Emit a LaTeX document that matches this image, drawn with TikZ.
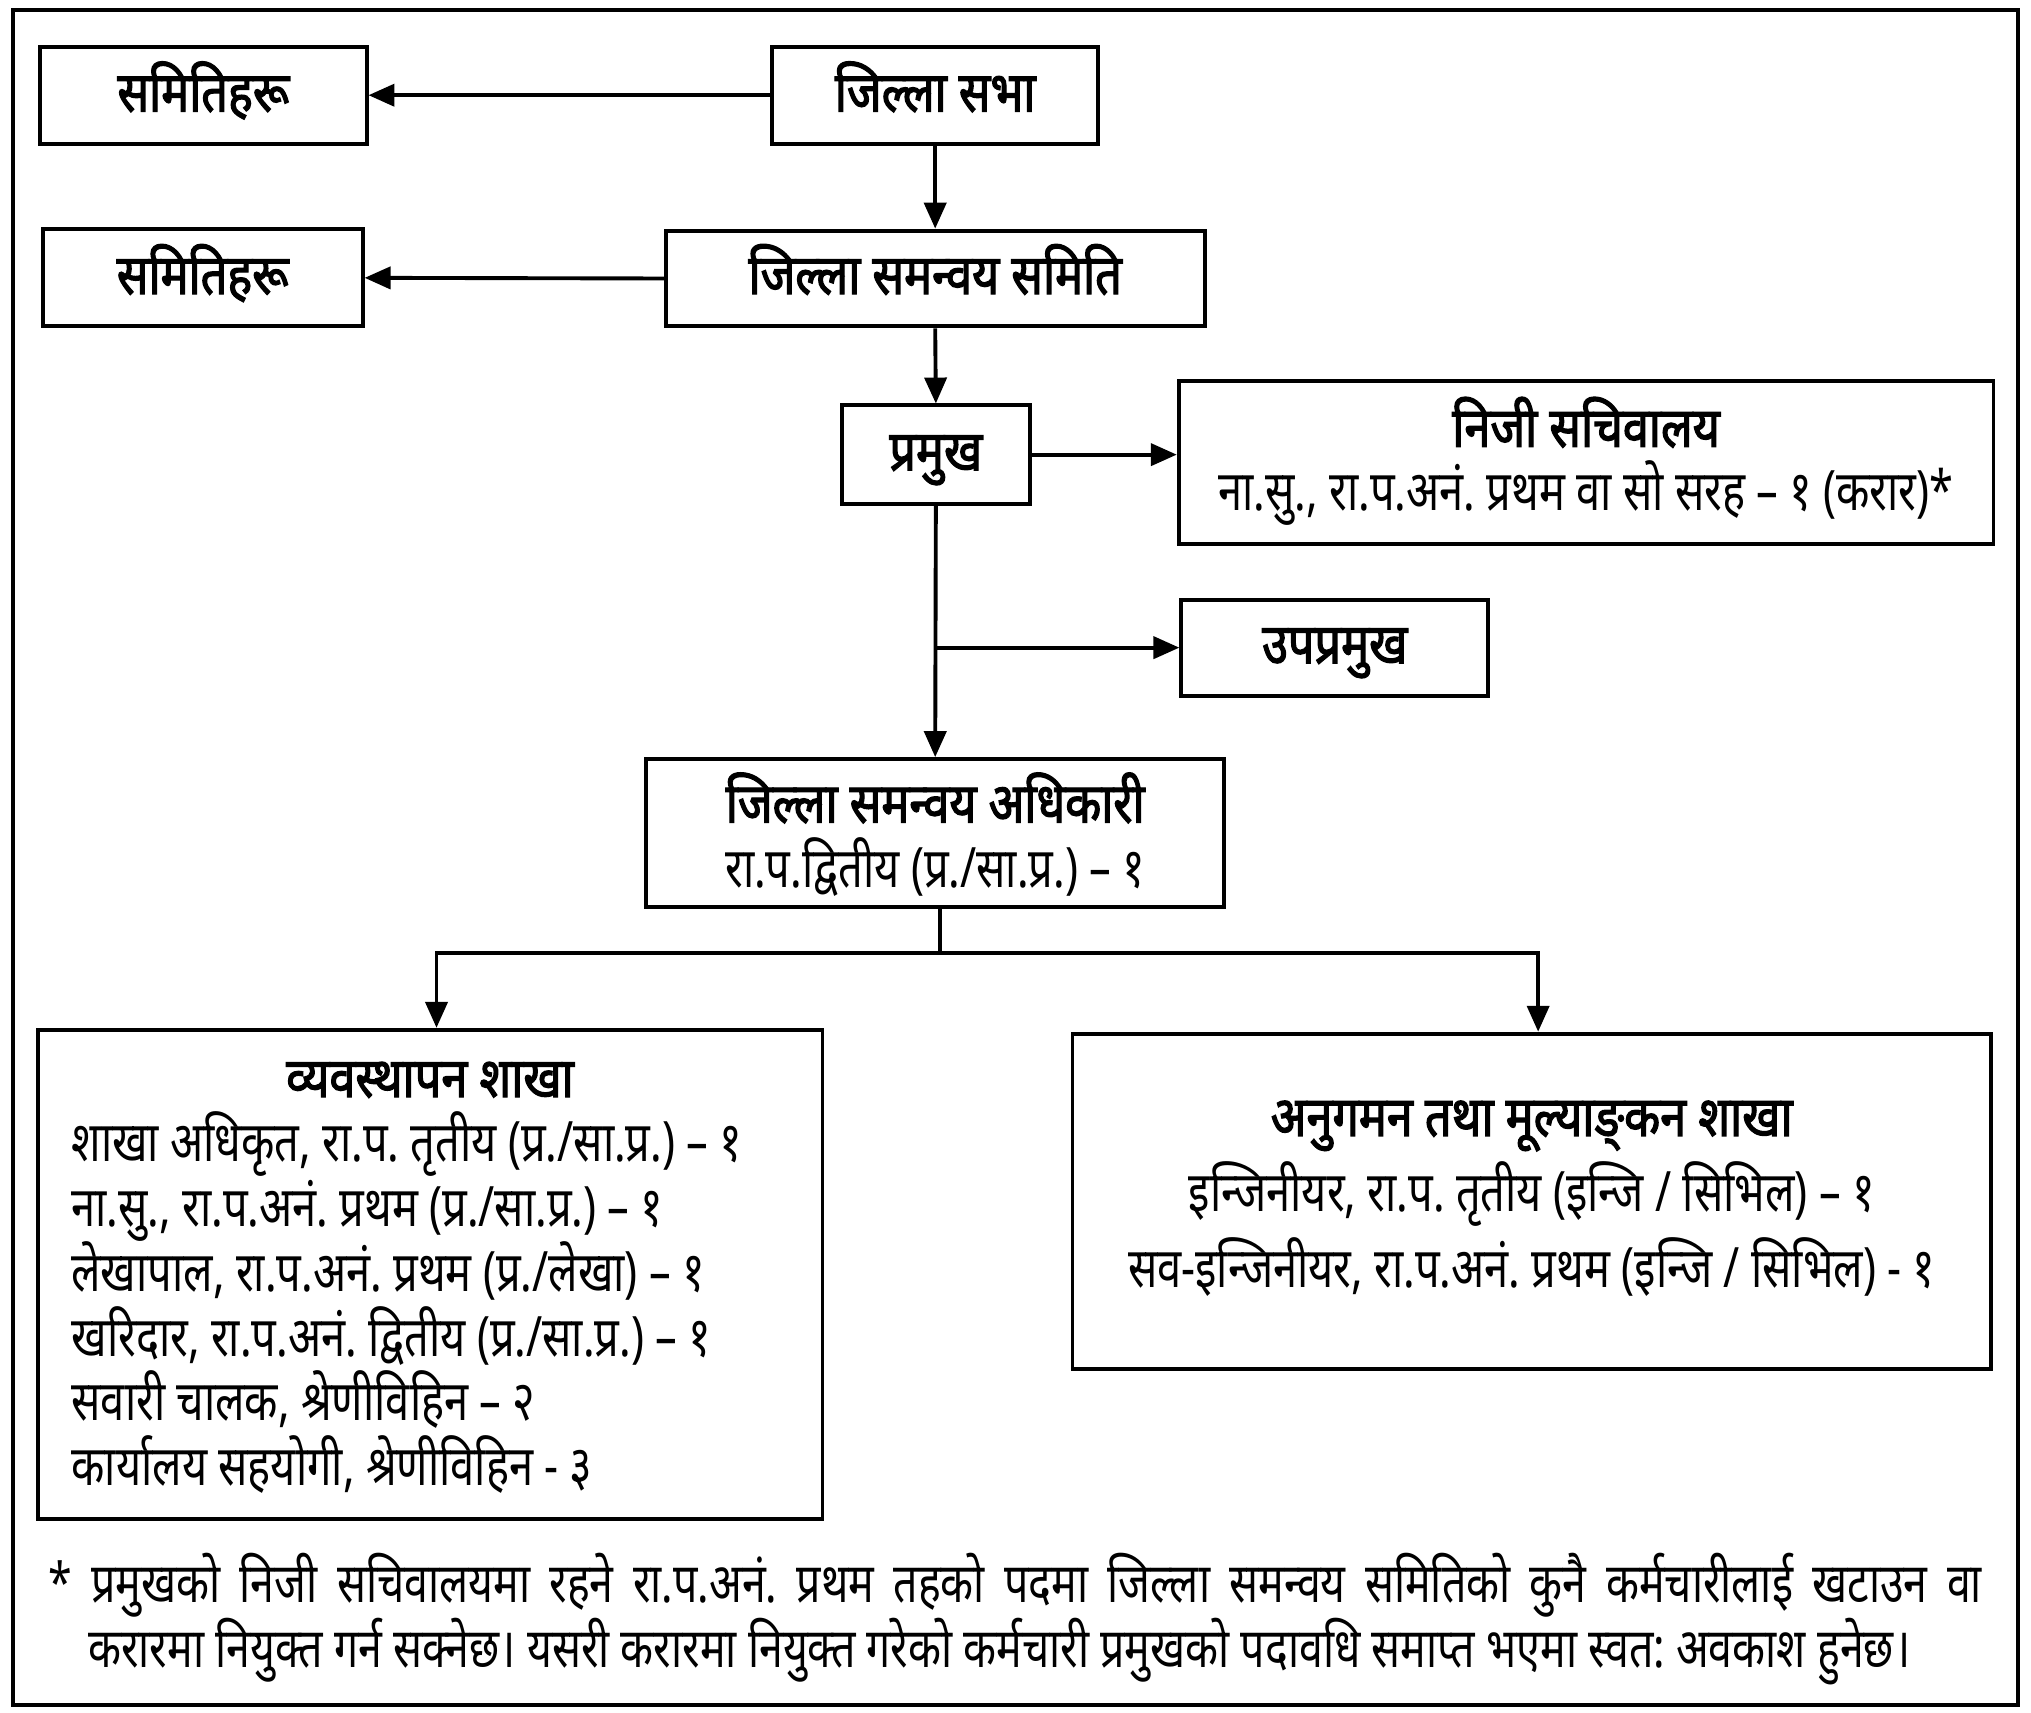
\documentclass[tikz,border=0pt]{standalone}
\usepackage{fontspec}
\setmainfont{Noto Sans}[Script=Devanagari,FakeStretch=0.78]
\newfontfamily\devbold{Noto Sans}[Script=Devanagari,FakeStretch=0.84,FakeBold=2.2]
\usetikzlibrary{arrows.meta}
\frenchspacing
\begin{document}
\begin{tikzpicture}[x=1pt,y=-1pt,
  box/.style={draw, line width=3pt, inner sep=0pt},
  arr/.style={line width=3pt, -{Triangle[length=20pt,width=17pt]}},
  ln/.style={line width=3pt},
  tb/.style={font=\fontsize{43}{43}\devbold, inner sep=0pt, anchor=base},
  tr/.style={font=\fontsize{43}{43}\selectfont, inner sep=0pt, anchor=base},
  tf/.style={font=\fontsize{42.5}{42.5}\selectfont, inner sep=0pt, anchor=base west}]
\useasboundingbox (0,0) rectangle (1568,1322);
\draw[line width=3pt] (10,8) rectangle (1558,1316);
% boxes
\node[box, minimum width=252pt, minimum height=75pt] (A) at (157,73.5) {};
\node[box, minimum width=252pt, minimum height=75pt] (B) at (722,73.5) {};
\node[box, minimum width=416pt, minimum height=74pt] (C) at (722,215) {};
\node[box, minimum width=247pt, minimum height=75pt] (D) at (156.5,214.5) {};
\node[box, minimum width=145pt, minimum height=76pt] (E) at (722.5,351) {};
\node[box, minimum width=629pt, minimum height=126pt] (F) at (1224.5,357) {};
\node[box, minimum width=237pt, minimum height=74pt] (H) at (1030.5,500) {};
\node[box, minimum width=446pt, minimum height=114pt] (G) at (722,643) {};
\node[box, minimum width=606pt, minimum height=378pt] (I) at (332,984) {};
\node[box, minimum width=709pt, minimum height=259pt] (J) at (1182.5,927.5) {};
% texts
\node[tb] (tA) at (157,86) {समितिहरू};
\node[tb] (tB) at (722,86) {जिल्ला सभा};
\node[tb] (tC) at (722,227) {जिल्ला समन्वय समिति};
\node[tb] (tD) at (156.5,227) {समितिहरू};
\node[tb] (tE) at (722.5,363) {प्रमुख};
\node[tb] (tF1) at (1224.5,345) {निजी सचिवालय};
\node[tr] (tF2) at (1224.5,394) {ना.सु., रा.प.अनं. प्रथम वा सो सरह – १ (करार)*};
\node[tb] (tH) at (1030.5,512) {उपप्रमुख};
\node[tb] (tG1) at (722,635) {जिल्ला समन्वय अधिकारी};
\node[tr] (tG2) at (722,685) {रा.प.द्वितीय (प्र./सा.प्र.) – १};
\node[tb] (tI0) at (332,847) {व्यवस्थापन शाखा};
\node[tr, anchor=base west] (tI1) at (55,897) {शाखा अधिकृत, रा.प. तृतीय (प्र./सा.प्र.) – १};
\node[tr, anchor=base west] (tI2) at (55,947) {ना.सु., रा.प.अनं. प्रथम (प्र./सा.प्र.) – १};
\node[tr, anchor=base west] (tI3) at (55,997) {लेखापाल, रा.प.अनं. प्रथम (प्र./लेखा) – १};
\node[tr, anchor=base west] (tI4) at (55,1047) {खरिदार, रा.प.अनं. द्वितीय (प्र./सा.प्र.) – १};
\node[tr, anchor=base west] (tI5) at (55,1097) {सवारी चालक, श्रेणीविहिन – २};
\node[tr, anchor=base west] (tI6) at (55,1147) {कार्यालय सहयोगी, श्रेणीविहिन - ३};
\node[tb] (tJ0) at (1182.5,877) {अनुगमन तथा मूल्याङ्^^^^200cकन शाखा};
\node[tr] (tJ1) at (1182.5,935) {इन्जिनीयर, रा.प. तृतीय (इन्जि / सिभिल) – १};
\node[tr] (tJ2) at (1182.5,994) {सव-इन्जिनीयर, रा.प.अनं. प्रथम (इन्जि / सिभिल) - १};
\node[tf] (fn1) at (37,1237) {\makebox[1493pt][s]{* प्रमुखको निजी सचिवालयमा रहने रा.प.अनं. प्रथम तहको पदमा जिल्ला समन्वय समितिको कुनै कर्मचारीलाई खटाउन वा}};
\node[tf] (fn2) at (68,1287) {करारमा नियुक्त गर्न सक्नेछ। यसरी करारमा नियुक्त गरेको कर्मचारी प्रमुखको पदावधि समाप्त भएमा स्वत: अवकाश हुनेछ।};
% connectors
\draw[arr] (B.west) -- (A.east);
\draw[arr] (B.south) -- (C.north);
\draw[arr] (C.west) -- (D.east);
\draw[arr] (C.south) -- (E.north);
\draw[arr] (E.east) -- (E.east -| F.west);
\draw[arr] (E.south) -- (G.north);
\draw[arr] (E.south |- H.west) -- (H.west);
\coordinate (bar) at (726,736);
\draw[ln] (bar |- G.south) -- (bar);
\draw[arr] (bar) -| ([xshift=5pt]I.north);
\draw[arr] (bar) -| ([xshift=5pt]J.north);
\end{tikzpicture}
\end{document}
